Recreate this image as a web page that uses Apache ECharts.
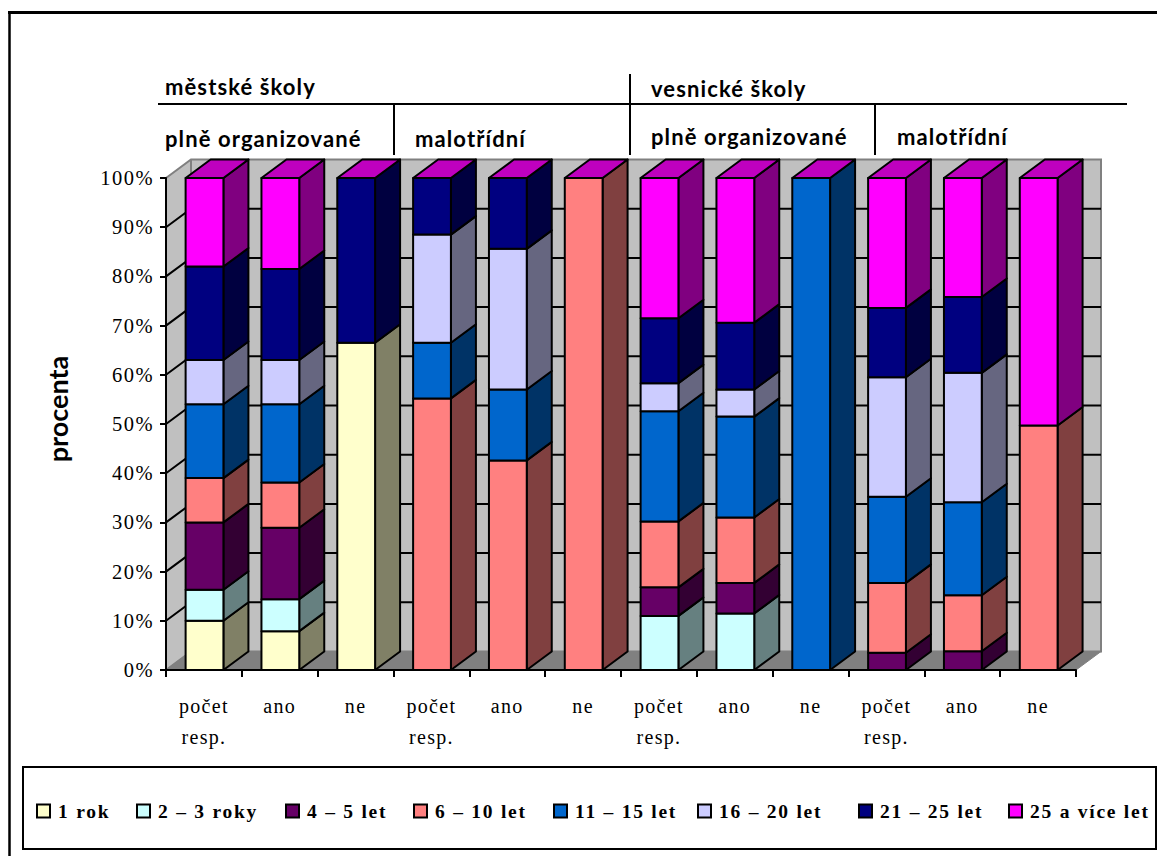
<!DOCTYPE html>
<html><head><meta charset="utf-8">
<script src="https://cdn.jsdelivr.net/npm/echarts@6/dist/echarts.min.js"></script>
<style>
html,body{margin:0;padding:0;background:#fff}
#c{width:1157px;height:856px}
svg text[style*="19.5px"]{letter-spacing:1.75px}
svg text[style*="20px"]{letter-spacing:1.3px}
svg text[style*="20.5px"]{letter-spacing:1.5px}
svg text[style*="22px"]{letter-spacing:1.1px}
</style></head><body><div id="c"></div>
<script>
const categories = ['počet\nresp.','ano','ne','počet\nresp.','ano','ne','počet\nresp.','ano','ne','počet\nresp.','ano','ne'];
const yTicks = [0,10,20,30,40,50,60,70,80,90,100];
const rok1    = [10,7.9,66.5,0,0,0,0,0,0,0,0,0];
const roky2_3 = [6.3,6.5,0,0,0,0,11,11.5,0,0,0,0];
const let4_5  = [13.7,14.5,0,0,0,0,5.8,6.2,0,3.5,3.8,0];
const let6_10 = [9,9.2,0,55.2,42.6,100,13.4,13.3,0,14.2,11.4,49.7];
const let11_15= [15,15.9,0,11.3,14.4,0,22.4,20.5,100,17.5,18.9,0];
const let16_20= [9,9,0,22,28.6,0,5.7,5.5,0,24.3,26.3,0];
const let21_25= [19,18.5,33.5,11.5,14.4,0,13.2,13.6,0,14.1,15.4,0];
const let25   = [18,18.5,0,0,0,0,28.5,29.4,0,26.4,24.2,50.3];
const seriesNames = ['1 rok','2 – 3 roky','4 – 5 let','6 – 10 let','11 – 15 let','16 – 20 let','21 – 25 let','25 a více let'];
const seriesValues = [rok1,roky2_3,let4_5,let6_10,let11_15,let16_20,let21_25,let25];
const colors = ['#FFFFCC','#CCFFFF','#660066','#FF8080','#0066CC','#CCCCFF','#000080','#FF00FF'];
const legendLeft = [36,136,285,413,553,697,858,1008];

const DX = 25, DY = 18.5;
const LAST = seriesNames.length-1;
function shade(hex,f){const n=parseInt(hex.slice(1),16);
  return 'rgb('+[(n>>16)&255,(n>>8)&255,n&255].map(v=>Math.round(v*f)).join(',')+')';}
const edge={stroke:'#000',lineWidth:2,lineJoin:'round'};

function renderWall(params,api){
  const t=api.value(0), p=api.coord([0,t]);
  const cs=params.coordSys, x0=cs.x, x1=cs.x+cs.width, y=p[1];
  const kids=[];
  if(t===0){
    const yTop=api.coord([0,100])[1];
    kids.push({type:'polygon',shape:{points:[[x0,yTop],[x0+DX,yTop-DY],[x1+DX,yTop-DY],[x1+DX,y-DY],[x0+DX,y-DY],[x0,y]]},style:{fill:'#C0C0C0',stroke:'#808080',lineWidth:2}});
    kids.push({type:'polygon',shape:{points:[[x0,y],[x0+DX,y-DY],[x1+DX,y-DY],[x1,y]]},style:{fill:'#808080',stroke:'#808080',lineWidth:1}});
    kids.push({type:'line',shape:{x1:x0+DX,y1:yTop-DY,x2:x0+DX,y2:y-DY},style:{stroke:'#808080',lineWidth:2}});
  } else if(t<100){
    kids.push({type:'polyline',shape:{points:[[x0,y],[x0+DX,y-DY],[x1+DX,y-DY]]},style:{fill:null,stroke:'#000',lineWidth:2}});
  }
  return {type:'group',children:kids};
}
const wallSeries={type:'custom',name:'stěny',silent:true,clip:false,z:1,encode:{x:-1,y:0},
  data:yTicks.map(t=>[t]),renderItem:renderWall};

const barSeries=seriesNames.map((name,si)=>({
  type:'custom',name,clip:false,z:2+si,
  itemStyle:{color:colors[si],borderColor:'#000',borderWidth:2},
  encode:{x:0,y:[1,2]},
  data:categories.map((c,i)=>{
    let base=0; for(let k=0;k<si;k++) base+=seriesValues[k][i];
    return [i,base,base+seriesValues[si][i]];
  }).filter((d)=>d[2]>d[1]||si===LAST),
  renderItem(params,api){
    const i=api.value(0), lo=api.coord([i,api.value(1)]), hi=api.coord([i,api.value(2)]);
    const w=37.8, xl=lo[0]+0.6-w/2, xr=xl+w, c=colors[si];
    const kids=[];
    if(api.value(2)>api.value(1)){
      kids.push({type:'polygon',shape:{points:[[xr,lo[1]],[xr+DX,lo[1]-DY],[xr+DX,hi[1]-DY],[xr,hi[1]]]},style:{fill:shade(c,0.5),...edge}});
    }
    if(si===LAST) kids.push({type:'polygon',shape:{points:[[xl,hi[1]],[xl+DX,hi[1]-DY],[xr+DX,hi[1]-DY],[xr,hi[1]]]},style:{fill:shade(c,0.75),...edge}});
    if(api.value(2)>api.value(1)){
      kids.push({type:'rect',shape:{x:xl,y:hi[1],width:w,height:lo[1]-hi[1]},style:{fill:c,...edge}});
    }
    return {type:'group',children:kids};
  }
}));

const head='Lato, "Noto Sans", sans-serif';
function hText(x,y,t){return {type:'text',x,y,z:20,style:{text:t,font:'bold 22px '+head,fill:'#000',textVerticalAlign:'middle'}};}
function hLine(x1,y1,x2,y2,w){return {type:'line',z:20,shape:{x1,y1,x2,y2},style:{stroke:'#000',lineWidth:w||2}};}

const chart=echarts.init(document.getElementById('c'),null,{renderer:'svg'});
chart.setOption({
  animation:false,backgroundColor:'#fff',
  grid:{left:166,right:81,top:178,bottom:186,containLabel:false},
  xAxis:{type:'category',data:categories,z:10,boundaryGap:true,
    axisLine:{show:true,lineStyle:{color:'#000',width:2}},
    axisTick:{show:true,alignWithLabel:false,interval:0,length:7,lineStyle:{color:'#000',width:2}},
    axisLabel:{interval:0,margin:20,lineHeight:31,fontFamily:'"Liberation Serif"',fontSize:20,color:'#000'}},
  yAxis:{type:'value',min:0,max:100,interval:10,z:10,
    name:'procenta',nameLocation:'middle',nameGap:95,nameRotate:90,
    nameTextStyle:{fontFamily:head,fontWeight:'bold',fontSize:27,color:'#000',padding:[0,0,0,30]},
    axisLine:{show:true,lineStyle:{color:'#000',width:2}},
    axisTick:{show:true,length:6,lineStyle:{color:'#000',width:2}},
    splitLine:{show:false},
    axisLabel:{margin:12,formatter:'{value}%',fontFamily:'"Liberation Serif"',fontSize:20.5,color:'#000'}},
  legend:seriesNames.map((n,i)=>({
    data:[n],left:legendLeft[i],top:801,padding:0,itemWidth:13,itemHeight:13,itemGap:0,icon:'rect',
    selectedMode:false,
    textStyle:{fontFamily:'"Liberation Serif"',fontWeight:'bold',fontSize:19.5,color:'#000',padding:[0,0,0,3]}
  })),
  graphic:[
    {type:'rect',z:0,shape:{x:23,y:767,width:1133,height:82},style:{fill:'#fff',stroke:'#000',lineWidth:2}},
    hLine(8,12.5,1157,12.5,3), hLine(9.5,12,9.5,856,2.5),
    hLine(158,104,1127,104), hLine(394,104,394,155), hLine(630,74,630,155), hLine(875,104,875,155),
    hText(165,86,'městské školy'), hText(651,88,'vesnické školy'),
    hText(165,138,'plně organizované'), hText(415,138,'malotřídní'),
    hText(651,136,'plně organizované'), hText(897,136,'malotřídní')
  ],
  series:[wallSeries,...barSeries]
});
</script></body></html>
